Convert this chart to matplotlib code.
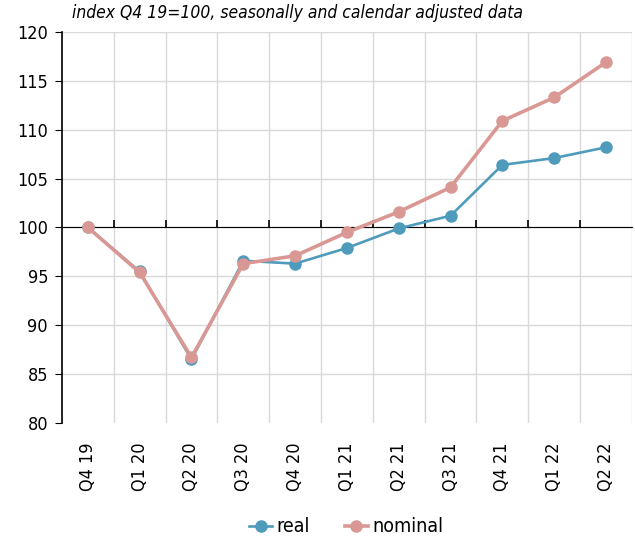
import matplotlib
matplotlib.use('Agg')
import matplotlib.pyplot as plt
import numpy as np

plt.rcParams['font.family'] = ['DejaVu Sans']
plt.rcParams['font.stretch'] = 'condensed'

quarters = ["Q4 19", "Q1 20", "Q2 20", "Q3 20", "Q4 20", "Q1 21",
            "Q2 21", "Q3 21", "Q4 21", "Q1 22", "Q2 22"]
real = [100.0, 95.5, 86.5, 96.6, 96.3, 97.9, 99.9, 101.2, 106.4, 107.1, 108.2]
nominal = [100.0, 95.4, 86.7, 96.3, 97.1, 99.5, 101.6, 104.1, 110.9, 113.3, 116.9]

c_real = "#4f9bbb"
c_nom = "#da9894"

fig = plt.figure(figsize=(6.35, 5.42), dpi=100)
ax = fig.add_axes([0.0976, 0.2196, 0.8974, 0.7214])

x = np.arange(len(quarters))
ax.plot(x, real, color=c_real, lw=1.9, marker="o", ms=8, label="real", zorder=3)
ax.plot(x, nominal, color=c_nom, lw=2.6, marker="o", ms=8, label="nominal", zorder=4)

ax.set_xlim(-0.5, len(quarters) - 0.5)
ax.set_ylim(80, 120)
ax.set_yticks(np.arange(80, 121, 5))
ax.tick_params(axis='y', labelsize=13, length=5, direction='out', pad=5)

# category labels at the bottom
ax.set_xticks(x)
ax.set_xticklabels(quarters, rotation=90, fontsize=13)
ax.tick_params(axis='x', length=0, pad=14)

# grid
bounds = np.arange(0.5, len(quarters) - 0.5, 1)
for b in list(bounds) + [len(quarters) - 0.5]:
    ax.axvline(b, color="#d9d9d9", lw=1, zorder=0)
for v in np.arange(85, 121, 5):
    ax.axhline(v, color="#d9d9d9", lw=1, zorder=0)

for s in ['top', 'right', 'bottom']:
    ax.spines[s].set_visible(False)
ax.spines['left'].set_linewidth(1.2)

# axis line at 100 with category boundary ticks
sec = ax.secondary_xaxis(0.5)
sec.set_xticks(bounds)
sec.set_xticklabels([])
sec.tick_params(length=5, width=1.2, direction='out')
sec.spines['bottom'].set_linewidth(1.5)

ax.text(0.018, 1.026, "index Q4 19=100, seasonally and calendar adjusted data",
        transform=ax.transAxes, fontsize=12.5, style='italic', ha='left', va='bottom')

fig.legend(loc='lower center', bbox_to_anchor=(0.545, -0.022), ncol=2, frameon=False,
           fontsize=14, handlelength=1.2, handletextpad=0.2, columnspacing=1.8)

fig.savefig("out.png", dpi=100)
